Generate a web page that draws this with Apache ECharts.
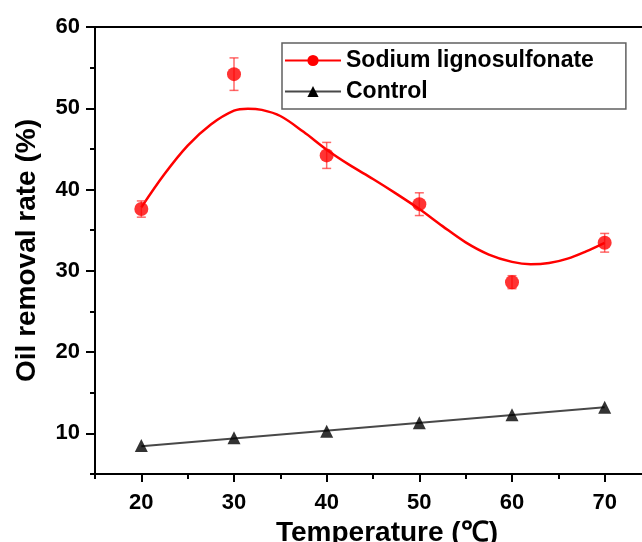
<!DOCTYPE html>
<html>
<head>
<meta charset="utf-8">
<script src="https://cdn.jsdelivr.net/npm/echarts@6/dist/echarts.min.js"></script>
<style>
  html, body { margin: 0; padding: 0; background: #fff; }
  #main { width: 642px; height: 542px; }
</style>
</head>
<body>
<div id="main"></div>
<script>
// measured points
const temps = [20, 30, 40, 50, 60, 70];
const slValues = [37.6, 54.2, 44.2, 38.2, 28.6, 33.45];
const slErrors = [1.0, 2.0, 1.6, 1.4, 0.8, 1.15];
const controlValues = [8.5, 9.45, 10.25, 11.3, 12.3, 13.2];

// fitted curves
const slFitX = [20, 22.5, 25, 27.5, 30, 31.5, 33, 35, 37.5, 40, 42.5, 45, 47.5, 50, 52.5, 55, 57.5, 60, 62, 64, 66, 68, 70];
const slFitY = [37.8, 41.9, 45.4, 48.0, 49.7, 49.95, 49.8, 49.05, 47.1, 44.9, 43.0, 41.3, 39.5, 37.6, 35.5, 33.5, 32.0, 31.1, 30.8, 30.95, 31.5, 32.4, 33.45];
const controlFitX = [20, 70];
const controlFitY = [8.4, 13.2];

// ticks
const xMajorTicks = [20, 30, 40, 50, 60, 70];
const xMinorTicks = [15, 25, 35, 45, 55, 65, 75];
const yMajorTicks = [10, 20, 30, 40, 50, 60];
const yMinorTicks = [5, 15, 25, 35, 45, 55];

const FONT = "'Liberation Sans', Arial, sans-serif";

const zip = (a, b) => a.map((v, i) => [v, b[i]]);

const myChart = echarts.init(document.getElementById('main'));

function errorBar(params, api) {
  const x = api.value(0);
  const lo = api.coord([x, api.value(1)]);
  const hi = api.coord([x, api.value(2)]);
  const w = 4.5;
  const style = { stroke: 'rgba(255,40,40,0.7)', lineWidth: 1.5 };
  return {
    type: 'group',
    children: [
      { type: 'line', shape: { x1: lo[0], y1: lo[1], x2: hi[0], y2: hi[1] }, style: style },
      { type: 'line', shape: { x1: lo[0] - w, y1: lo[1], x2: lo[0] + w, y2: lo[1] }, style: style },
      { type: 'line', shape: { x1: hi[0] - w, y1: hi[1], x2: hi[0] + w, y2: hi[1] }, style: style }
    ]
  };
}

const axisLineStyle = { color: '#000', width: 2 };

const option = {
  backgroundColor: '#fff',
  animation: false,
  grid: {
    left: 95, top: 27, width: 556, height: 447,
    outerBoundsMode: 'none',
    show: true, borderColor: '#000', borderWidth: 2
  },
  legend: {
    data: ['Sodium lignosulfonate', 'Control'],
    orient: 'vertical',
    left: 282, top: 43,
    padding: [6, 32, 6, 2],
    itemWidth: 56, itemHeight: 14, itemGap: 8,
    borderColor: '#606060', borderWidth: 1.5,
    selectedMode: false,
    textStyle: { fontFamily: FONT, fontWeight: 'bold', fontSize: 23, color: '#000' }
  },
  xAxis: [{
    type: 'value', min: 15, max: 75,
    axisLine: { lineStyle: axisLineStyle },
    axisTick: { customValues: xMajorTicks, length: 8, lineStyle: axisLineStyle },
    axisLabel: { customValues: xMajorTicks, margin: 18, fontFamily: FONT, fontWeight: 'bold', fontSize: 22, color: '#000' },
    splitLine: { show: false },
    name: 'Temperature (℃)',
    nameLocation: 'middle', nameGap: 38,
    nameTextStyle: { fontFamily: FONT, fontWeight: 'bold', fontSize: 28, color: '#000', padding: [0, 0, 0, 28] }
  }, {
    type: 'value', min: 15, max: 75, position: 'bottom',
    axisLine: { show: false },
    axisTick: { customValues: xMinorTicks, length: 5, lineStyle: axisLineStyle },
    axisLabel: { show: false },
    splitLine: { show: false }
  }],
  yAxis: [{
    type: 'value', min: 5, max: 60,
    axisLine: { show: true, lineStyle: axisLineStyle },
    axisTick: { show: true, customValues: yMajorTicks, length: 9, lineStyle: axisLineStyle },
    axisLabel: { customValues: yMajorTicks, margin: 15, fontFamily: FONT, fontWeight: 'bold', fontSize: 22, color: '#000' },
    splitLine: { show: false },
    name: 'Oil removal rate (%)',
    nameLocation: 'middle', nameGap: 54, nameRotate: 90,
    nameTextStyle: { fontFamily: FONT, fontWeight: 'bold', fontSize: 28, color: '#000' }
  }, {
    type: 'value', min: 5, max: 60, position: 'left',
    axisLine: { show: false },
    axisTick: { show: true, customValues: yMinorTicks, length: 5, lineStyle: axisLineStyle },
    axisLabel: { show: false },
    splitLine: { show: false }
  }],
  series: [
    {
      name: 'Sodium lignosulfonate', type: 'line',
      data: zip(slFitX, slFitY), smooth: 0.35,
      symbol: 'circle', symbolSize: 14, showSymbol: false,
      lineStyle: { color: '#ff0000', width: 2.5 },
      itemStyle: { color: '#ff0000' },
      z: 3
    },
    {
      name: 'Control', type: 'line',
      data: zip(controlFitX, controlFitY),
      symbol: 'triangle', symbolSize: 13, showSymbol: false,
      lineStyle: { color: '#484848', width: 2 },
      itemStyle: { color: '#000' },
      z: 3
    },
    {
      name: 'sl-error', type: 'custom',
      renderItem: errorBar,
      data: temps.map((t, i) => [t, slValues[i] - slErrors[i], slValues[i] + slErrors[i]]),
      z: 4
    },
    {
      name: 'sl-points', type: 'scatter',
      data: zip(temps, slValues),
      symbol: 'circle', symbolSize: 14,
      itemStyle: { color: '#ff0000' },
      z: 5
    },
    {
      name: 'control-points', type: 'scatter',
      data: zip(temps, controlValues),
      symbol: 'triangle', symbolSize: 13,
      itemStyle: { color: '#000' },
      z: 5
    }
  ]
};

myChart.setOption(option);
</script>
</body>
</html>
